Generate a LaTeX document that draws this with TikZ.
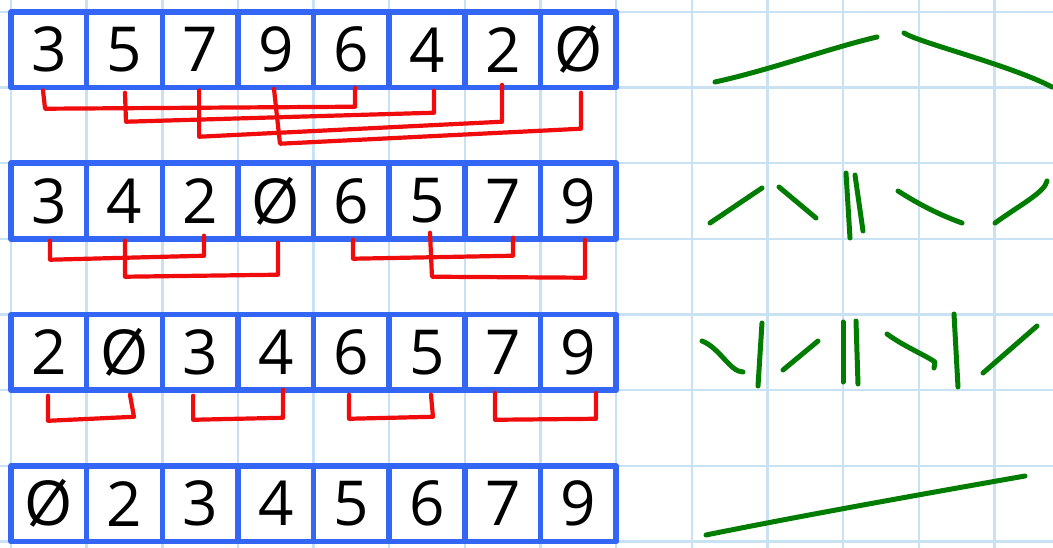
\documentclass[tikz,border=0pt]{standalone}
\usepackage{fontspec}
\setmainfont{Open Sans}
\usetikzlibrary{calc}
\definecolor{gridblue}{RGB}{200,225,243}
\definecolor{boxblue}{RGB}{52,102,245}
\definecolor{linkred}{RGB}{240,12,12}
\definecolor{markgreen}{RGB}{0,125,0}
\tikzset{
  gridline/.style={draw=gridblue, line width=2.4pt},
  cell/.style={draw=boxblue, line width=5.6pt, line join=round, minimum width=75.65pt, minimum height=75.65pt, inner sep=0pt, font=\fontsize{62}{62}\selectfont, text=black},
  link/.style={draw=linkred, line width=4.2pt, line cap=round, line join=round},
  greenmark/.style={draw=markgreen, line width=5pt, line cap=round, line join=round}
}
\begin{document}
\begin{tikzpicture}[x=1pt,y=-1pt]
\fill[white] (0,0) rectangle (1053,548);
\useasboundingbox (0,0) rectangle (1053,548);
% grid paper
\foreach \k in {0,...,13} \draw[gridline] ({11+75.65*\k},0) -- ({11+75.65*\k},548);
\foreach \k in {0,...,7} \draw[gridline] (0,{12+75.65*\k}) -- (1053,{12+75.65*\k});
% cells
\foreach \r/\yy/\ds in {1/49.8/{3,5,7,9,6,4,2,Ø}, 2/201.1/{3,4,2,Ø,6,5,7,9}, 3/352.4/{2,Ø,3,4,6,5,7,9}, 4/503.7/{Ø,2,3,4,5,6,7,9}} {
  \foreach \d [count=\i from 0] in \ds {
    \node[cell] (r\r-\i) at ({11+75.65*(\i+0.5)},\yy) {\d};
  }
}
% row 1 links
\draw[link] ($(r1-0.south)+(-5.8,0)$) -- ($(r1-0.south)+(-3.8,18.3)$) -- ($(r1-4.south)+(3.6,16.3)$) -- ($(r1-4.south)+(3.6,-2.6)$);
\draw[link] ($(r1-1.south)+(0.5,2.3)$) -- ($(r1-1.south)+(1.5,31.3)$) -- ($(r1-5.south)+(6.9,22.3)$) -- ($(r1-5.south)+(6.9,0.3)$);
\draw[link] ($(r1-2.south)+(-1,0)$) -- ($(r1-2.south)+(-1,46.3)$) -- ($(r1-6.south)+(-0.7,31.3)$) -- ($(r1-6.south)+(-0.7,-5.6)$);
\draw[link] ($(r1-3.south)+(-1.8,-1.6)$) -- ($(r1-3.south)+(4.2,53.3)$) -- ($(r1-7.south)+(2.6,38.3)$) -- ($(r1-7.south)+(2.6,2.3)$);
% row 2 links
\draw[link] ($(r2-0.south)+(1.2,-1)$) -- ($(r2-0.south)+(1.2,18)$) -- ($(r2-2.south)+(3.9,14)$) -- ($(r2-2.south)+(3.9,-6)$);
\draw[link] ($(r2-1.south)+(0.5,-1)$) -- ($(r2-1.south)+(0.5,35)$) -- ($(r2-3.south)+(2.2,33)$) -- ($(r2-3.south)+(2.2,1)$);
\draw[link] ($(r2-4.south)+(1.6,-2)$) -- ($(r2-4.south)+(1.6,17)$) -- ($(r2-6.south)+(10.3,14)$) -- ($(r2-6.south)+(10.3,-4)$);
\draw[link] ($(r2-5.south)+(2.9,-9)$) -- ($(r2-5.south)+(4.9,35)$) -- ($(r2-7.south)+(6.6,36)$) -- ($(r2-7.south)+(6.6,-2)$);
% row 3 links
\draw[link] ($(r3-0.south)+(-0.8,2.75)$) -- ($(r3-0.south)+(-0.8,27.75)$) -- ($(r3-1.south)+(9.5,23.75)$) -- ($(r3-1.south)+(5.5,1.75)$);
\draw[link] ($(r3-2.south)+(-7,2.75)$) -- ($(r3-2.south)+(-7,26.75)$) -- ($(r3-3.south)+(7.2,24.75)$) -- ($(r3-3.south)+(7.2,-3.25)$);
\draw[link] ($(r3-4.south)+(-2.4,1.75)$) -- ($(r3-4.south)+(-2.4,25.75)$) -- ($(r3-5.south)+(5.9,23.75)$) -- ($(r3-5.south)+(3.9,1.75)$);
\draw[link] ($(r3-6.south)+(-7.7,0)$) -- ($(r3-6.south)+(-7.7,26.75)$) -- ($(r3-7.south)+(17.6,25.75)$) -- ($(r3-7.south)+(17.6,0)$);
% green marks, row 1
\draw[greenmark] (715,82) .. controls (770,70) and (830,48) .. (877,37);
\draw[greenmark] (904,33) .. controls (920,43) and (1010,65) .. (1052,87);
% row 2
\draw[greenmark] (710,223) -- (762,188);
\draw[greenmark] (779,187) -- (816,218);
\draw[greenmark] (846,173) -- (850,238);
\draw[greenmark] (855,175) -- (863,231);
\draw[greenmark] (898,191) .. controls (920,205) and (940,215) .. (962,223);
\draw[greenmark] (995,223) .. controls (1020,205) and (1045,192) .. (1047,181);
% row 3
\draw[greenmark] (702,341) .. controls (720,348) and (730,372) .. (743,372);
\draw[greenmark] (762,323) -- (758,386);
\draw[greenmark] (783,370) -- (818,341);
\draw[greenmark] (843,322) -- (843,382);
\draw[greenmark] (856,321) -- (858,384);
\draw[greenmark] (887,334) .. controls (905,347) and (925,355) .. (935,362) -- (934,368);
\draw[greenmark] (954,314) -- (958,387);
\draw[greenmark] (983,373) -- (1037,326);
% row 4
\draw[greenmark] (706,535) .. controls (790,518) and (900,498) .. (1025,476);
\end{tikzpicture}
\end{document}
